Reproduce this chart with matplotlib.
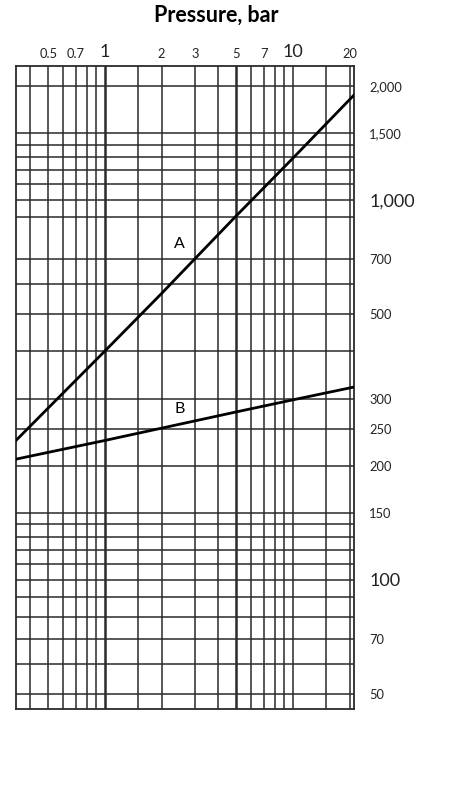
import matplotlib.pyplot as plt
import matplotlib.ticker as mt

plt.rcParams['font.family'] = ['Lato', 'DejaVu Sans']

# readings
pres_a = [0.336, 1, 2, 3, 5, 10, 21.1]
temp_a = [233, 401, 568, 700, 910, 1290, 1890]
pres_b = [0.336, 1, 2, 5, 10, 21.1]
temp_b = [208, 233, 251, 277, 298, 322]

grid_x = [0.4, 0.5, 0.6, 0.7, 0.8, 0.9, 1, 1.5, 2, 3, 4, 5, 6, 7, 8, 9, 10, 15, 20]
lab_x = {0.5: '0.5', 0.7: '0.7', 1: '1', 2: '2', 3: '3', 5: '5', 7: '7', 10: '10', 20: '20'}
big_x = [1, 10]
grid_y = [50, 60, 70, 80, 90, 100, 110, 120, 130, 140, 150, 200, 250, 300, 400,
          500, 600, 700, 900, 1000, 1100, 1200, 1300, 1400, 1500, 2000]
lab_y = {50: '50', 70: '70', 100: '100', 150: '150', 200: '200', 250: '250', 300: '300',
         500: '500', 700: '700', 1000: '1,000', 1500: '1,500', 2000: '2,000'}
big_y = [100, 1000]

fig = plt.figure(figsize=(4.55, 8.0), dpi=100)
ax = fig.add_axes([0.0352, 0.114, 0.7428, 0.8035])
ax.set_xscale('log'); ax.set_yscale('log')
ax.set_xlim(0.336, 21.1); ax.set_ylim(45.8, 2254)

gc = '#2a2a2a'
for v in grid_x:
    ax.axvline(v, color=gc, lw=1.8 if v in (1, 5) else 1.1, zorder=1)
for v in grid_y:
    ax.axhline(v, color=gc, lw=1.1, zorder=1)

ax.plot(pres_a, temp_a, color='black', lw=2, zorder=3)
ax.plot(pres_b, temp_b, color='black', lw=2, zorder=3)
ax.text(2.5, 766, 'A', fontsize=11.5, ha='center', va='center')
ax.text(2.5, 282, 'B', fontsize=11.5, ha='center', va='center')

ax.xaxis.tick_top(); ax.yaxis.tick_right()
ax.xaxis.set_minor_locator(mt.NullLocator()); ax.yaxis.set_minor_locator(mt.NullLocator())
ax.set_xticks(list(lab_x)); ax.set_xticklabels(list(lab_x.values()))
ax.set_yticks(list(lab_y)); ax.set_yticklabels(list(lab_y.values()))
ax.tick_params(axis='x', length=0, pad=4, labelsize=9.3, labelcolor='#222')
ax.tick_params(axis='y', length=0, pad=11, labelsize=9.3, labelcolor='#222')
for t, v in zip(ax.get_xticklabels(), lab_x):
    if v in big_x: t.set_fontsize(13)
for t, v in zip(ax.get_yticklabels(), lab_y):
    if v in big_y: t.set_fontsize(13)
for s in ax.spines.values():
    s.set_color(gc); s.set_linewidth(1.3)

fig.text(216/455, 1-15/800, 'Pressure, bar', fontsize=15.5, weight='bold', ha='center', va='center')

fig.savefig('out.png', dpi=100)
